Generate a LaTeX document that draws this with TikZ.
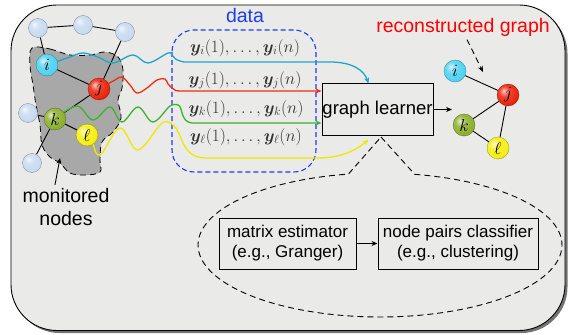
\documentclass[tikz,border=0pt]{standalone}
\usepackage{fontspec}
\setmainfont{Liberation Sans}
\usepackage{bm}
\usetikzlibrary{arrows.meta,calc}
\pgfdeclarelayer{back}
\pgfdeclarelayer{edges}
\pgfsetlayers{back,edges,main}
\makeatletter
\pgfdeclareradialshading[tikz@ball]{softball}{\pgfqpoint{-10bp}{10bp}}{%
  color(0bp)=(tikz@ball!25!white); color(12bp)=(tikz@ball!85!white);
  color(28bp)=(tikz@ball); color(44bp)=(tikz@ball!85!black); color(62bp)=(tikz@ball!55!black)}
\makeatother
\definecolor{bgc}{RGB}{234,234,232}
\definecolor{blobc}{RGB}{168,168,168}
\definecolor{ncyan}{RGB}{80,210,240}
\definecolor{nred}{RGB}{235,35,10}
\definecolor{ngreen}{RGB}{140,175,45}
\definecolor{nyellow}{RGB}{245,238,20}
\definecolor{nlight}{RGB}{200,218,240}
\definecolor{wcyan}{RGB}{30,165,205}
\definecolor{wred}{RGB}{240,45,15}
\definecolor{wgreen}{RGB}{60,180,40}
\definecolor{wyellow}{RGB}{240,232,0}
\definecolor{datablue}{RGB}{30,60,240}
\tikzset{
  gnode/.style={circle, minimum size=22pt, inner sep=0pt, ball color=#1, shading=softball, draw=#1!60!black, line width=0.3pt, font=\fontsize{16}{16}\selectfont},
  lnode/.style={gnode=nlight, minimum size=19pt},
  gedge/.style={line width=0.9pt, black},
  wave/.style={line width=1.3pt, draw=#1, -{Stealth[length=6pt,width=5pt]}},
  tbox/.style={draw, line width=1pt, align=center, inner sep=0pt, font=\fontsize{17}{20}\selectfont},
  blbl/.style={font=\fontsize{19.5}{23}\selectfont, align=center},
  mlabel/.style={font=\fontsize{17}{20}\selectfont, text=black!80},
  dsh/.style={dash pattern=on 6pt off 4pt, line width=0.9pt},
}
\begin{document}
\begin{tikzpicture}[x=1pt,y=-1pt]
\useasboundingbox (0,0) rectangle (569,334);
% background frame
\begin{pgfonlayer}{back}
  \fill[black!55, rounded corners=46pt] (13.5,7.5) rectangle (567.5,333);
  \filldraw[fill=bgc, draw=black, line width=0.9pt, rounded corners=46pt] (11,5) rectangle (565,330.5);
  \filldraw[fill=blobc, draw=black, dsh, line width=0.8pt] plot[smooth cycle, tension=0.6] coordinates {
    (32,48) (50,49) (70,55) (90,55) (105,52) (118,57) (123,70) (122,88) (118,100) (121,118)
    (113,132) (102,142) (100,160) (100,172) (85,175) (70,173) (60,163) (50,157) (42,145)
    (40,125) (36,105) (33,85) (30,65)};
  \draw[datablue, dash pattern=on 5pt off 3pt, line width=1.1pt, rounded corners=22pt] (172,30) rectangle (316,172);
\end{pgfonlayer}

% left graph nodes
\node[lnode] (t1) at (38,28) {};
\node[lnode] (t2) at (83,25) {};
\node[lnode] (t3) at (125,32) {};
\node[lnode] (l1) at (28,113) {};
\node[lnode] (l2) at (32,163) {};
\node[gnode=ncyan] (i) at (47,65) {$i$};
\node[gnode=nred] (j) at (99,89) {$j$};
\node[gnode=ngreen] (k) at (55,119) {$k$};
\node[gnode=nyellow] (l) at (87,135) {$\ell$};

% graph learner
\node[tbox, minimum width=111pt, minimum height=51pt, font=\fontsize{18.5}{22}\selectfont] (gl) at (377.5,109.5) {graph learner};

% data labels
\node[font=\fontsize{19.5}{23}\selectfont, text=datablue] (data) at (245,16) {data};
\node[mlabel] (yi) at (245,48) {$\bm{y}_i(1),\ldots,\bm{y}_i(n)$};
\node[mlabel] (yj) at (245,80) {$\bm{y}_j(1),\ldots,\bm{y}_j(n)$};
\node[mlabel] (yk) at (246,109) {$\bm{y}_k(1),\ldots,\bm{y}_k(n)$};
\node[mlabel] (yl) at (246,137) {$\bm{y}_\ell(1),\ldots,\bm{y}_\ell(n)$};

% monitored nodes
\node[blbl] (mon) at (66,207) {monitored\\nodes};
\coordinate (blobpt) at (60,158);

% reconstructed graph
\node[font=\fontsize{19.5}{23}\selectfont, text=red] (rec) at (463,27) {reconstructed graph};
\coordinate (rectip) at (483,72);
\node[gnode=ncyan] (ri) at (455,71) {$i$};
\node[gnode=nred] (rj) at (508,95) {$j$};
\node[gnode=ngreen] (rk) at (464,125) {$k$};
\node[gnode=nyellow] (rl) at (498,148) {$\ell$};
\coordinate (outtip) at (452,109.5);

% callout boxes
\node[tbox, minimum width=137pt, minimum height=51pt] (me) at (287.5,243.5) {matrix estimator\\(e.g., Granger)};
\node[tbox, minimum width=160pt, minimum height=51pt] (np) at (458,243.5) {node pairs classifier\\(e.g., clustering)};
\coordinate (apex) at (381,137);

\begin{pgfonlayer}{edges}
  \draw[gedge] (t1) -- (t2) -- (t3);
  \draw[gedge] (t1) -- (i);
  \draw[gedge] (t3) -- (j);
  \draw[gedge] (i) -- (j);
  \draw[gedge] (j) -- (k);
  \draw[gedge] (k) -- (l1);
  \draw[gedge] (k) -- (l);
  \draw[gedge] (k) -- (l2);
  \draw[gedge] (ri) -- (rj);
  \draw[gedge] (rj) -- (rk);
  \draw[gedge] (rj) -- (rl);
  \draw[gedge] (rk) -- (rl);
  % waves
  \draw[wave=wcyan] plot[smooth, tension=0.6] coordinates {(i.center) (70,57) (83,53) (98,57) (113,63) (133,55) (148,63) (168,53) (172,55)}
     .. controls (176,60) .. (184,62) -- (330,62) .. controls (352,62) and (364,70) .. ([xshift=-9pt]gl.north);
  \draw[wave=wred] plot[smooth, tension=0.6] coordinates {(j.center) (115,80) (122,77) (130,85) (137,93) (147,88) (157,80) (165,79) (168,84) (172,88)}
     .. controls (175,91) .. (185,91) -- ([yshift=18.5pt]gl.west);
  \draw[wave=wgreen] plot[smooth, tension=0.6] coordinates {(k.center) (77,106) (93,120) (110,107) (122,122) (138,107) (153,122) (170,106) (178,105)}
     .. controls (183,106) and (180,122) .. (192,123) -- ([yshift=-13.5pt]gl.west);
  \draw[wave=wyellow] plot[smooth, tension=0.6] coordinates {(l.center) (92,142) (100,155) (120,128) (138,150) (162,123) (173,125)}
     .. controls (183,132) and (180,157) .. (205,158) -- (318,158) .. controls (345,158) and (360,147) .. ([xshift=-9pt,yshift=-4pt]gl.south);
\end{pgfonlayer}

\draw[gedge, -{Stealth[length=6pt,width=5pt]}] ([xshift=-11pt]mon.north) -- (blobpt);
\draw[gedge, -{Stealth[length=6pt,width=5pt]}] (gl.east) -- (outtip);
\draw[dsh, line width=0.9pt, -{Stealth[length=6pt,width=5pt]}] ([xshift=4pt]rec.south) -- (rectip);
\draw[gedge, -{Stealth[length=6pt,width=5pt]}] (me.east) -- (np.west);
% callout
\draw[dsh] (apex) -- plot[domain=-79:260, samples=120] ({380+182*cos(\x)}, {245+72*sin(\x)}) -- (apex);
\end{tikzpicture}
\end{document}
